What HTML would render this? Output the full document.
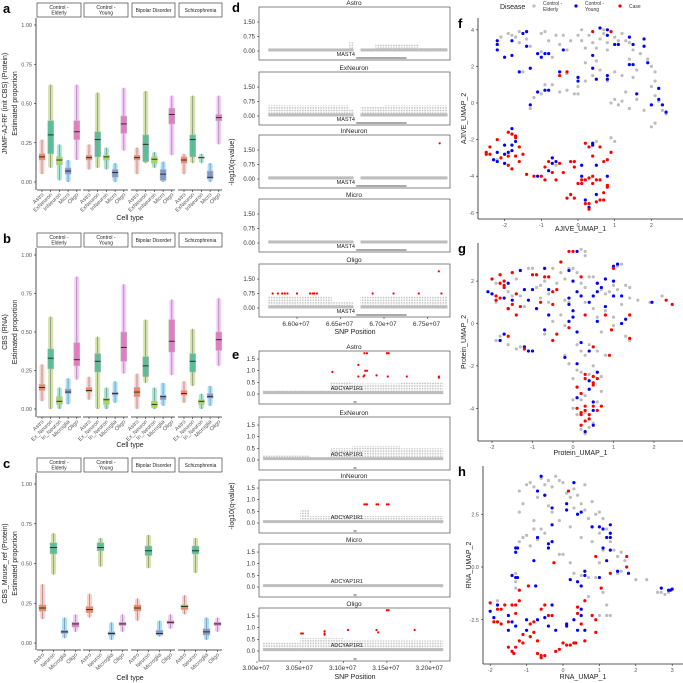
<!DOCTYPE html>
<html><head><meta charset="utf-8"><style>
body{margin:0;background:#fff}
svg{display:block;font-family:"Liberation Sans",Arial,sans-serif}
</style></head><body>
<svg id="fig" width="683" height="683" viewBox="0 0 683 683">
<defs><pattern id="dots" width="2.6" height="2.6" patternUnits="userSpaceOnUse"><circle cx="1.3" cy="1.3" r="0.9" fill="#bdbdbd"/></pattern></defs>
</svg>
<script>
// ---------- DATA ----------
const groups = ["Control -|Elderly","Control -|Young","Bipolar Disorder","Schizophrenia"];
const catsA = ["Astro","ExNeuron","InNeuron","Micro","Oligo"];
const catsB = ["Astro","Ex_Neuron","In_Neuron","Microglia","Oligo"];
const catsC = ["Astro","Neuron","Microglia","Oligo"];
// [median,q1,q3,min,max]
const statsA = [
 [[.16,.14,.18,.05,.27],[.30,.18,.39,.09,.62],[.14,.11,.16,.01,.24],[.07,.05,.09,0,.14],[.32,.27,.39,.14,.62]],
 [[.155,.14,.17,.08,.24],[.27,.16,.32,.09,.57],[.16,.14,.17,.08,.22],[.06,.03,.08,0,.12],[.37,.31,.42,.2,.6]],
 [[.155,.14,.17,.05,.22],[.24,.13,.30,.12,.58],[.145,.12,.16,.09,.19],[.05,.01,.08,0,.13],[.43,.37,.47,.17,.55]],
 [[.14,.12,.16,.05,.18],[.27,.16,.30,.12,.55],[.155,.15,.16,.12,.18],[.03,.02,.07,0,.12],[.41,.39,.43,.24,.55]]];
const statsB = [
 [[.14,.12,.16,.05,.29],[.33,.26,.39,0,.60],[.05,.03,.08,0,.14],[.11,.10,.13,.03,.20],[.32,.28,.43,.19,.86]],
 [[.12,.11,.14,.06,.21],[.31,.24,.36,0,.47],[.06,.03,.07,0,.14],[.10,.09,.11,.04,.18],[.40,.31,.50,.23,.81]],
 [[.11,.08,.14,0,.23],[.28,.21,.34,.17,.58],[.03,.01,.05,0,.14],[.08,.06,.09,.02,.17],[.44,.37,.58,.22,.71]],
 [[.10,.09,.12,.04,.18],[.31,.24,.36,.15,.52],[.05,.03,.06,0,.10],[.08,.07,.10,.02,.15],[.45,.38,.50,.28,.72]]];
const statsC = [
 [[.22,.20,.24,.15,.37],[.60,.56,.63,.43,.69],[.07,.06,.08,.03,.16],[.12,.10,.13,.07,.18]],
 [[.21,.19,.23,.16,.31],[.60,.58,.63,.48,.66],[.06,.05,.07,.02,.13],[.12,.11,.13,.07,.18]],
 [[.22,.20,.24,.14,.28],[.58,.55,.61,.47,.68],[.06,.05,.08,.04,.14],[.13,.12,.14,.09,.18]],
 [[.23,.21,.24,.18,.30],[.58,.56,.61,.44,.66],[.07,.05,.09,.02,.16],[.12,.11,.13,.07,.16]]];
const yTicksBox = [0,0.25,0.5,0.75,1.0];
const yTickLabelsBox = ["0.00","0.25","0.50","0.75","1.00"];

const cellsDE = ["Astro","ExNeuron","InNeuron","Micro","Oligo"];
// gray bands [start,end,maxHeight]
const segD = [
 [[6.567,6.66,0.12],[6.66,6.665,0.45],[6.673,6.69,0.1],[6.69,6.74,0.35],[6.74,6.773,0.15]],
 [[6.567,6.66,0.55],[6.66,6.665,0.35],[6.673,6.70,0.5],[6.70,6.773,0.55]],
 [[6.567,6.665,0.15],[6.673,6.773,0.15]],
 [[6.567,6.665,0.12],[6.673,6.773,0.12]],
 [[6.567,6.64,0.6],[6.64,6.665,0.3],[6.673,6.773,0.6]]];
const redD = [[],[],[[6.764,1.85]],[],
 [[6.572,.75],[6.578,.75],[6.583,.75],[6.586,.75],[6.589,.75],[6.60,.75],[6.615,.75],[6.618,.75],[6.62,.75],[6.623,.75],[6.687,.75],[6.711,.75],[6.74,.75],[6.766,.75],[6.763,1.9]]];
const xTicksD = [6.60,6.65,6.70,6.75];
const xTickLabelsD = ["6.60e+07","6.65e+07","6.70e+07","6.75e+07"];
const yTicksD = [0,0.75,1.5];
const yTickLabelsD = ["0.00","0.75","1.50"];

const segE = [
 [[3.007,3.085,0.15],[3.085,3.11,0.5],[3.11,3.165,0.45],[3.165,3.215,0.5]],
 [[3.007,3.06,0.2],[3.06,3.085,0.1],[3.085,3.11,0.5],[3.11,3.165,0.6],[3.165,3.215,0.5]],
 [[3.007,3.05,0.15],[3.05,3.06,0.55],[3.06,3.11,0.3],[3.11,3.215,0.3]],
 [[3.007,3.215,0.08]],
 [[3.007,3.05,0.35],[3.05,3.1,0.55],[3.1,3.215,0.45]]];
const redE = [
 [[3.087,.95],[3.117,1.25],[3.117,.75],[3.124,1.75],[3.127,1.75],[3.125,1.0],[3.127,1.0],[3.124,.8],[3.123,.75],[3.138,.8],[3.15,1.75],[3.152,1.75],[3.151,.75],[3.173,.75],[3.21,.75],[3.21,.7]],
 [],
 [[3.124,.8],[3.126,.8],[3.127,.8],[3.138,.8],[3.140,.8],[3.15,.8],[3.152,.8]],
 [],
 [[3.051,.75],[3.053,.75],[3.078,.85],[3.078,.7],[3.078,.75],[3.105,.9],[3.138,.9],[3.14,.8],[3.15,1.75],[3.152,1.75],[3.182,.9]]];
const xTicksE = [3.00,3.05,3.10,3.15,3.20];
const xTickLabelsE = ["3.00e+07","3.05e+07","3.10e+07","3.15e+07","3.20e+07"];
const yTicksE = [0,0.5,1.0,1.5];
const yTickLabelsE = ["0.0","0.5","1.0","1.5"];

const fGray=[[-1.9,3.8],[-1.8,3.7],[-1.7,3.6],[-1.6,3.3],[-1.4,3.5],[-1.3,3.1],[-1.0,3.8],[-0.9,3.9],[-0.8,3.4],[-0.6,3.7],[-0.4,3.7],[-0.5,3.2],[-0.3,2.9],[-0.2,3.4],[0,3.7],[0.1,3.4],[0.2,3.0],[0.3,3.7],[0.4,3.3],[0.5,3.0],[0.6,3.5],[0.7,3.8],[0.8,3.3],[1.0,3.6],[1.1,3.4],[1.2,3.8],[1.3,3.4],[1.4,3.3],[1.5,2.9],[1.7,2.7],[1.9,2.4],[2.0,2.0],[2.1,1.7],[2.1,1.2],[2.0,0.9],[2.1,0.4],[2.2,0.1],[2.3,-0.4],[2.4,-0.6],[2.0,-1.3],[2.1,-1.1],[1.8,-0.4],[1.6,0.2],[1.4,-0.3],[1.2,0.1],[1.0,0.2],[0.9,0.0],[1.1,-0.1],[1.3,0.6],[1.5,1.4],[1.6,1.8],[1.4,2.4],[1.2,1.5],[1.0,1.7],[0.8,1.2],[0.6,1.8],[0.4,1.5],[0.2,1.2],[0,0.9],[-0.1,0.5],[0,0.5],[-0.3,0.7],[-0.5,0.6],[-0.7,1.0],[-0.9,1.0],[-1.0,0.5],[-1.2,0.3],[-1.3,-0.3],[-1.0,2.8],[-0.7,2.5],[-1.5,1.7],[-2.1,3.6],[0.8,2.9],[0.5,2.3],[0.2,2.2],[-0.3,1.6],[0.1,4.0],[-1.6,3.9],[0.9,-1.9],[1.0,-2.1],[0.5,-2.1],[-0.6,-3.4],[-2.2,-3.1],[0.7,4.0]];
const fBlue=[[-2.2,3.4],[-2.2,3.2],[-2.2,2.9],[-2.0,2.5],[-1.8,3.4],[-1.8,2.6],[-1.6,1.7],[-1.5,3.8],[-1.4,3.9],[-1.4,3.1],[-1.3,1.9],[-1.1,2.7],[-1.0,2.5],[-0.9,2.7],[-0.8,2.7],[-0.4,2.9],[-0.5,1.7],[-0.9,0.7],[-0.8,0.7],[-1.1,0.6],[-1.3,-0.1],[0,1.4],[0.0,1.2],[0.4,1.9],[0.4,2.6],[0.5,1.3],[0.8,1.5],[0.8,1.3],[0.6,4.1],[0.8,3.7],[0.8,4.0],[1.0,3.2],[1.1,3.2],[1.4,3.6],[1.5,3.2],[1.8,3.5],[1.8,3.1],[1.4,2.1],[1.5,2.1],[1.9,2.2],[2.2,0.8],[1.6,0.5],[2.0,-0.1],[2.2,0.2],[2.3,-0.1],[2.4,-0.5],[-2.0,-2.3],[-2.2,-2.7],[-2.0,-2.8],[-1.9,-2.7],[-1.8,-2.6],[-1.8,-2.3],[-1.7,-2.1],[-1.8,-1.4],[-2.3,-3.1],[-2.2,-3.2],[-2.0,-3.3],[-1.1,-4.0],[-0.8,-3.7],[-0.7,-3.3],[-0.7,-3.0],[-0.6,-3.2],[0.1,-3.4],[0.4,-2.3],[0.4,-2.2],[0.5,-3.4],[0.8,-4.0],[0.1,-4.0],[0.2,-5.3],[0.5,-5.0],[0.3,-5.7]];
const fRed=[[0.4,3.9],[0.9,3.9],[-0.5,1.5],[-0.3,1.7],[-2.4,-2.4],[-2.5,-2.7],[-2.5,-2.8],[-2.4,-2.8],[-2.2,-2.0],[-2.1,-3.0],[-1.9,-1.6],[-1.9,-2.9],[-1.8,-1.7],[-1.7,-1.9],[-1.7,-1.8],[-1.6,-2.4],[-1.7,-2.9],[-1.6,-3.2],[-1.8,-3.6],[-1.9,-3.4],[-1.5,-2.8],[-1.4,-3.9],[-1.2,-4.0],[-1.0,-4.0],[-0.9,-4.2],[-0.9,-3.5],[-0.8,-3.2],[-0.7,-3.8],[-0.6,-4.2],[-0.5,-3.3],[-0.4,-3.8],[-0.2,-3.2],[-0.1,-3.2],[-0.1,-3.5],[0.2,-2.2],[0.3,-2.4],[0.4,-2.9],[0.6,-2.4],[0.7,-3.2],[0.8,-3.1],[0.9,-2.7],[0.8,-4.6],[0.8,-4.5],[0.6,-4.2],[0.3,-4.1],[0.2,-4.2],[0.4,-4.0],[0.4,-4.4],[0.5,-4.2],[0.1,-4.4],[0.1,-4.2],[0.0,-4.4],[-0.1,-5.2],[-0.2,-5.0],[-0.3,-5.2],[0.2,-5.5],[0.3,-5.5],[0.5,-5.4],[0.7,-5.3],[0.7,-4.9],[0.6,-5.3],[0.3,-5.8]];
const gGray=[[-1.9,1.0],[-1.6,1.5],[-1.3,1.3],[-1.1,2.6],[-1.0,2.6],[-0.9,1.7],[-0.8,1.8],[-0.7,2.0],[-0.6,1.4],[-0.5,2.6],[-0.4,1.9],[-0.3,2.4],[-0.2,2.1],[-0.1,2.6],[0,2.6],[0.1,2.4],[0.2,1.9],[0.3,1.7],[0.4,2.2],[0.5,2.2],[0.6,1.9],[0.7,1.6],[0.8,1.4],[0.9,1.5],[1.0,1.8],[1.1,1.6],[1.3,1.8],[1.4,1.7],[1.4,1.2],[1.6,1.1],[1.9,1.0],[2.2,1.3],[1.2,2.8],[1.1,2.7],[0.2,3.5],[0.3,3.4],[0.3,3.2],[0,3.4],[-0.1,1.0],[0.3,1.0],[0.5,0.7],[0.6,0.3],[0.8,0.6],[1.0,0.3],[1.2,0.9],[1.3,-0.6],[1.4,-0.8],[1.0,-0.1],[0.7,-0.4],[-0.2,-0.1],[-0.3,0.4],[-0.5,0.1],[-0.7,-0.5],[-0.8,1.2],[-1.2,0.8],[-1.3,-1.1],[-1.4,-1.2],[-1.6,-1.0],[-1.8,-0.8],[-1.9,-0.8],[-1.8,-0.6],[0.1,-1.0],[0.2,-1.3],[0.3,-1.5],[0.4,-1.0],[0.6,-1.3],[0.8,-1.5],[0.5,-2.0],[0.2,-2.3],[0.0,-2.6],[0.1,-2.2],[0.4,-2.4],[0.7,-2.5],[0.7,-3.2],[0.6,-3.7],[0.3,-3.4],[0.2,-3.6],[0.0,-3.6],[0.0,-4.0],[0.1,-4.3],[0.3,-4.2],[0.2,-5.0],[0.3,-5.2],[0.4,-4.9],[0.5,-4.7],[-0.1,-1.9],[-0.2,-1.5],[-0.6,1.0],[-1.5,1.3],[-1.9,1.9],[-1.4,2.1],[-0.2,1.1]];
const gBlue=[[-2.1,1.5],[-2.0,1.4],[-1.7,1.2],[-1.6,1.9],[-1.5,1.1],[-1.3,2.5],[-1.2,1.6],[-1.1,1.1],[-1.0,1.6],[-0.9,0.7],[-0.7,2.6],[-0.6,1.6],[-0.6,0.4],[-0.7,-0.3],[-0.1,2.5],[0,2.0],[0.1,1.5],[-0.1,1.2],[-0.1,0.9],[0,0.3],[0,0.6],[-0.1,0.1],[0.1,-0.4],[0.1,3.4],[0.2,1.3],[0.4,1.0],[0.5,1.3],[0.6,1.5],[0.6,0.1],[0.6,1.9],[0.7,1.7],[0.8,0.8],[0.8,2.1],[1.0,2.0],[1.0,1.3],[1.2,1.3],[1.1,2.8],[1.3,0.2],[1.2,0.0],[1.0,2.7],[1.95,1.0],[-1.7,-0.5],[-1.8,-0.8],[-1.2,-1.1],[-1.1,-1.3],[-1.0,-1.3],[-0.2,-1.6],[0.2,-0.9],[0.4,-1.3],[0.1,-1.9],[0.6,-2.3],[0.4,-2.7],[0.4,-3.1],[0.1,-3.5],[0.5,-3.7],[0.5,-4.1],[0.5,-4.8],[0.3,-5.1]];
const gRed=[[-2.0,2.1],[-1.8,2.3],[-1.9,1.3],[-1.9,1.1],[-1.8,1.2],[-1.8,1.9],[-1.7,1.7],[-1.7,1.8],[-1.7,2.0],[-1.6,0.7],[-1.5,2.4],[-1.5,0.9],[-1.4,0.4],[-1.3,0.8],[-1.4,1.4],[-1.2,-1.2],[-1.0,2.3],[-0.9,2.3],[-0.8,1.0],[-0.7,2.2],[-0.6,2.2],[-0.5,0.9],[-0.4,1.6],[-0.5,1.5],[-0.4,-0.5],[-0.5,-0.8],[-0.3,2.9],[-0.1,3.4],[0,3.4],[0.2,2.2],[0.3,0.4],[-0.1,-0.2],[0.8,0.4],[1.0,2.6],[0.95,-0.3],[1.4,0.4],[1.4,-0.7],[0.9,-1.5],[0.5,-1.1],[0.3,-2.4],[0.3,-2.6],[0.5,-2.5],[0.5,-2.8],[0.5,-2.9],[0.6,-2.6],[0.1,-3.0],[0.2,-3.3],[0.3,-3.9],[0.5,-3.9],[0.6,-4.1],[0.7,-3.9],[0.1,-4.0],[0.2,-4.2],[0.2,-4.3],[0.3,-4.1],[0.4,-4.3],[0.3,-4.6],[0.4,-4.5],[0.2,-4.8],[2.3,1.1],[2.45,0.9],[-1.6,-0.6],[-1.6,0.7]];
const hGray=[[-1.2,3.6],[-1.1,3.0],[-1.2,2.6],[-1.0,3.9],[-0.9,4.0],[-0.8,3.8],[-0.7,3.3],[-0.6,4.2],[-0.5,3.9],[-0.4,4.1],[-0.3,3.8],[-0.2,4.3],[-0.1,4.1],[0.0,4.0],[0.1,3.5],[0.2,3.3],[0.3,3.7],[0.4,3.4],[0.5,3.0],[0.6,2.7],[0.7,2.3],[0.8,3.1],[0.9,2.5],[1.0,2.6],[1.1,2.3],[1.2,1.8],[1.3,1.2],[1.4,0.8],[1.5,0.5],[1.6,0.7],[1.7,0.3],[1.5,-0.3],[1.6,-0.2],[1.1,0.8],[1.0,0.2],[0.9,-0.5],[0.7,-0.5],[0.5,-0.4],[0.3,-0.3],[0.2,0.2],[0.0,0.6],[-0.1,0.6],[-0.3,1.2],[-0.4,0.9],[-0.5,1.6],[-0.6,1.8],[-0.7,1.3],[-0.9,1.0],[-1.0,1.5],[-1.1,1.4],[-1.2,1.2],[-0.8,2.2],[-0.3,2.6],[-0.1,2.2],[0.2,1.9],[0.5,1.4],[0.8,1.2],[1.0,1.6],[-0.4,2.9],[-0.5,3.4],[0.6,3.9],[2.0,-0.6],[2.3,-0.6],[2.6,-1.2],[2.7,-1.2],[2.8,-1.3],[2.9,-1.2],[-1.3,-0.3],[-1.3,-0.7],[-1.3,-1.0],[-1.8,-1.6],[1.1,-1.2],[1.2,-1.8],[1.0,-2.3],[1.2,-2.3],[1.3,-2.3],[0.7,-1.4],[-0.8,1.8],[0.3,2.8]];
const hBlue=[[-0.6,4.3],[-0.7,3.6],[-0.5,3.4],[-0.3,2.8],[-0.3,2.0],[-0.7,1.4],[-0.4,1.1],[-0.4,0.9],[-0.3,1.2],[-1.3,0.7],[-1.3,0.9],[-1.25,0.9],[-0.8,0.3],[0.3,4.0],[0.1,3.0],[0.1,2.7],[0.4,2.5],[0.5,2.6],[0.8,1.9],[1.0,1.9],[1.1,1.8],[1.3,2.0],[1.3,1.6],[1.3,1.4],[1.2,1.4],[1.1,0.9],[1.3,0.8],[1.2,0.3],[1.5,-0.2],[1.8,-0.3],[1.0,-0.5],[0.6,-0.2],[0.6,-0.4],[0.2,-0.6],[0.4,-0.7],[0.5,-0.9],[-1.4,-0.4],[-1.3,-0.5],[-1.25,-0.5],[-0.75,-0.9],[-2.0,-2.1],[-1.8,-1.8],[-1.9,-2.4],[-1.5,-2.3],[-1.4,-2.6],[-1.3,-2.8],[-1.5,-3.0],[-1.0,-3.0],[-1.0,-2.5],[-0.7,-2.5],[-0.5,-2.4],[-0.4,-2.8],[-0.3,-1.8],[-0.2,-3.0],[0.1,-2.8],[0.1,-2.7],[0.3,-2.5],[0.4,-3.0],[0.5,-2.3],[0.5,-2.0],[0.6,-3.0],[2.7,-1.0],[2.9,-1.1],[2.95,-1.1],[3.0,-1.05]];
const hRed=[[0.15,3.6],[-0.25,0.2],[0.9,0.5],[1.75,0.5],[1.75,0.0],[1.3,-0.3],[1.05,-1.0],[-0.95,-0.9],[-1.2,-1.1],[0.6,-1.6],[0.4,-1.9],[-2.0,-1.7],[-1.9,-2.6],[-1.8,-2.0],[-1.7,-2.0],[-1.7,-2.7],[-1.6,-1.8],[-1.5,-2.6],[-1.4,-1.8],[-1.3,-1.8],[-1.2,-1.6],[-1.3,-2.2],[-1.2,-3.5],[-1.1,-3.2],[-0.9,-2.7],[-0.8,-2.6],[-0.9,-3.3],[-0.8,-3.1],[-0.7,-3.5],[-0.6,-2.0],[-0.5,-1.8],[-0.4,-2.3],[-0.7,-4.1],[-0.6,-4.3],[-0.5,-4.2],[-0.6,-4.2],[-1.1,-3.6],[-1.3,-3.8],[-1.4,-4.0],[-1.5,-3.8],[-1.35,-4.1],[0.0,-3.6],[0.1,-3.7],[0.2,-3.7],[0.3,-3.6],[0.6,-3.5],[0.5,-2.7],[0.4,-2.2],[0.8,-2.3],[0.9,-2.5],[0.9,-3.1],[-0.2,-4.0],[-0.1,-3.9],[-0.3,-2.3],[0.35,-3.6],[-1.8,-2.6]];
const fXTicks=[-2,-1,0,1,2], fYTicks=[-6,-4,-2,0,2,4];
const gXTicks=[-2,-1,0,1,2], gYTicks=[-4,-2,0,2];
const hXTicks=[-2,-1,0,1,2,3], hYTicks=[-2.5,0,2.5];
const hYTickLabels=["-2.5","0.0","2.5"];

// ---------- HELPERS ----------
const NS="http://www.w3.org/2000/svg";
const svg=document.getElementById('fig');
function mk(tag,attrs,parent,text){const e=document.createElementNS(NS,tag);for(const k in attrs)e.setAttribute(k,attrs[k]);if(text!==undefined)e.textContent=text;(parent||svg).appendChild(e);return e;}
function txt(x,y,s,size,anchor,parent,extra){const t=mk('text',Object.assign({x:x,y:y,'font-size':size,'text-anchor':anchor||'middle',fill:'#222'},extra||{}),parent,s);return t;}

const boxFill=["#F4845A","#58BD96","#A6D854","#8097C9","#E07BBF"];
const ptCol=["#F8766D","#7CAE00","#00BF7D","#00A9FF","#E76BF3"];
const boxFillC=["#F4845A","#58BD96","#8097C9","#E07BBF"];
const ptColC=["#F8766D","#7CAE00","#00A9FF","#E76BF3"];
const facetX=[[37,81],[84,128],[132,175],[179,222]];

function boxPanel(letter,stats,cats,y0px,y1px,stripTop,axisBottom,ytitle1,fills,pts){
  const g=mk('g',{}); 
  
  const y=v=>y0px-(v)*(y0px-y1px);
  txt(3,stripTop+10,letter,13,'start',g,{'font-weight':'bold',fill:'#000'});
  mk('line',{x1:36,x2:36,y1:stripTop+15,y2:axisBottom,stroke:'#222','stroke-width':0.8},g);
  yTicksBox.forEach((v,i)=>{mk('line',{x1:34,x2:36,y1:y(v),y2:y(v),stroke:'#222','stroke-width':0.6},g);
    const t=txt(32,y(v)+2,yTickLabelsBox[i],5.5,'end',g,{fill:'#555'});
    });
  const yt=txt(0,0,ytitle1,7,'middle',g,{transform:`translate(7,${(y0px+y1px)/2}) rotate(-90)`});
  
  const yt2=txt(0,0,'Estimated proportion',7,'middle',g,{transform:`translate(17,${(y0px+y1px)/2}) rotate(-90)`});
  
  const n=cats.length, step=n===5?8.7:11, off=n===5?5:5.5, bw=n===5?6:7;
  facetX.forEach((fx,gi)=>{
    const s=mk('rect',{x:fx[0],y:stripTop,width:fx[1]-fx[0],height:14,fill:'#fff',stroke:'#444','stroke-width':0.7},g);
    
    const lines=groups[gi].split('|');
    lines.forEach((l,li)=>txt((fx[0]+fx[1])/2,stripTop+(lines.length===1?9:6)+li*5.5,l,5,'middle',g));
    mk('line',{x1:fx[0]-(gi?1:0),x2:fx[1],y1:axisBottom,y2:axisBottom,stroke:'#222','stroke-width':0.8},g);
    cats.forEach((c,ci)=>{
      const cx=fx[0]+off+ci*step, st=stats[gi][ci];
      const cl=mk('rect',{x:cx-2.5,y:y(st[4]),width:5,height:y(st[3])-y(st[4]),fill:pts[ci],opacity:0.35,rx:2},g);
      
      mk('line',{x1:cx,x2:cx,y1:y(st[4]),y2:y(st[3]),stroke:'#777','stroke-width':0.6},g);
      const b=mk('rect',{x:cx-bw/2,y:y(st[2]),width:bw,height:y(st[1])-y(st[2]),fill:fills[ci],stroke:'#bbb','stroke-width':0.5,opacity:0.95},g);
      
      mk('line',{x1:cx-bw/2,x2:cx+bw/2,y1:y(st[0]),y2:y(st[0]),stroke:'#222','stroke-width':0.9},g);
      mk('line',{x1:cx,x2:cx,y1:axisBottom,y2:axisBottom+2,stroke:'#222','stroke-width':0.6},g);
      const t=txt(0,0,c,5.5,'end',g,{fill:'#555',transform:`translate(${cx+2},${axisBottom+5}) rotate(-45)`});
      
    });
  });
  const xt=txt(130,axisBottom+30,'Cell type',7,'middle',g);
  
}
boxPanel('a',statsA,catsA,182,25,3,190,'JNMF-AJ-RF (init CBS) (Protein)',boxFill,ptCol);
boxPanel('b',statsB,catsB,409,255,233,417,'CBS (RNA)',boxFill,ptCol);
boxPanel('c',statsC,catsC,643,484,458,650,'CBS_Mouse_ref (Protein)',boxFillC,ptColC);

// ---------- Manhattan ----------
function manhattan(letter,tops,segs,reds,xTicks,xLabels,x0val,x0px,pxPerUnit,yTicks,yLabels,zeroOff,pxPerY,gene,geneX0,geneX1,geneLabelX,geneLabelOff,titleY){
  const g=mk('g',{});
  const X=v=>x0px+(v-x0val)*pxPerUnit;
  txt(232,tops[0]-(letter==='d'?-5:-8),letter,13,'start',g,{'font-weight':'bold',fill:'#000'});
  tops.forEach((top,fi)=>{
    const fg=mk('g',{},g);
    txt(354,top-2,cellsDE[fi],6.5,'middle',fg);
    mk('rect',{x:259,y:top,width:191,height:53,fill:'#fff',stroke:'#666','stroke-width':0.8},fg);
    const Y=v=>top+zeroOff-v*pxPerY;
    yTicks.forEach((v,i)=>{mk('line',{x1:257,x2:259,y1:Y(v),y2:Y(v),stroke:'#333','stroke-width':0.6},fg);
      txt(255,Y(v)+2,yLabels[i],6,'end',fg,{fill:'#333'});});
    segs[fi].forEach(s=>{
      const band=mk('rect',{x:X(s[0]),y:Y(s[2]),width:X(s[1])-X(s[0]),height:Y(0)-Y(s[2]),fill:'url(#dots)',opacity:0.9},fg);
      
      mk('rect',{x:X(s[0]),y:Y(0.08)-1,width:X(s[1])-X(s[0]),height:3,fill:'#bdbdbd'},fg);
    });
    reds[fi].forEach(p=>{const c=mk('circle',{cx:X(p[0]),cy:Y(p[1]),r:1.1,fill:'#ff0000'},fg);
      });
    txt(geneLabelX,top+geneLabelOff,gene,5.5,'end',fg,{fill:'#222'});
    mk('line',{x1:X(geneX0),x2:X(geneX1),y1:top+51,y2:top+51,stroke:'#555','stroke-width':1},fg);
  });
  const last=tops[tops.length-1]+53;
  xTicks.forEach((v,i)=>{mk('line',{x1:X(v),x2:X(v),y1:last,y2:last+2,stroke:'#333','stroke-width':0.6},g);
    txt(X(v)-1,last+9,xLabels[i],6.5,'middle',g,{fill:'#333'});});
  txt(355,titleY,'SNP Position',7,'middle',g);
  txt(0,0,'-log10(q-value)',7,'middle',g,{transform:`translate(234,${(tops[0]+last)/2}) rotate(-90)`});
}
manhattan('d',[7,72,135,199,264],segD,redD,xTicksD,xTickLabelsD,6.60,297,870,yTicksD,yTickLabelsD,44,19.3,'MAST4',6.668,6.726,355,49,334);
manhattan('e',[351,417,480,544,608],segE,redE,xTicksE,xTickLabelsE,3.00,257,866,yTicksE,yTickLabelsE,43,23.3,'ADCYAP1R1',3.1115,3.115,363,39,679);

// ---------- UMAP ----------
function umap(letter,gray,blue,red,x0,xu,y0,yu,left,top,right,bottom,xTicks,yTicks,yLabels,xtitle,ytitle,titleY){
  const g=mk('g',{});
  const X=v=>x0+v*xu, Y=v=>y0-v*yu;
  txt(458,top+10,letter,13,'start',g,{'font-weight':'bold',fill:'#000'});
  mk('line',{x1:left,x2:left,y1:top,y2:bottom,stroke:'#222','stroke-width':0.8},g);
  mk('line',{x1:left,x2:right,y1:bottom,y2:bottom,stroke:'#222','stroke-width':0.8},g);
  xTicks.forEach(v=>{mk('line',{x1:X(v),x2:X(v),y1:bottom,y2:bottom+2,stroke:'#222','stroke-width':0.6},g);
    txt(X(v),bottom+8,String(v),5.5,'middle',g,{fill:'#555'});});
  yTicks.forEach((v,i)=>{mk('line',{x1:left-2,x2:left,y1:Y(v),y2:Y(v),stroke:'#222','stroke-width':0.6},g);
    txt(left-4,Y(v)+2,yLabels?yLabels[i]:String(v),5.5,'end',g,{fill:'#555'});});
  [[gray,'#bdbdbd','control-elderly'],[blue,'#0000ff','control-young'],[red,'#ff0000','case']].forEach(([arr,col,nm])=>{
    arr.forEach(p=>{const c=mk('circle',{cx:X(p[0]),cy:Y(p[1]),r:1.6,fill:col},g);
      });
  });
  txt((left+right)/2,titleY,xtitle,7,'middle',g);
  txt(0,0,ytitle,7,'middle',g,{transform:`translate(${left-12},${(top+bottom)/2}) rotate(-90)`});
}
umap('f',fGray,fBlue,fRed,578,36.7,103,18.3,478,18,683,219,fXTicks,fYTicks,null,'AJIVE_UMAP_1','AJIVE_UMAP_2',231);
umap('g',gGray,gBlue,gRed,573,40.5,323.5,21.2,478,243,683,441,gXTicks,gYTicks,null,'Protein_UMAP_1','Protein_UMAP_2',455);
umap('h',hGray,hBlue,hRed,563,36.4,567,21.1,483,466,683,664,hXTicks,hYTicks,hYTickLabels,'RNA_UMAP_1','RNA_UMAP_2',679);

// legend
const lg=mk('g',{});
txt(500,9,'Disease',7,'start',lg);
[[534,'#bdbdbd',['Control -','Elderly']],[576,'#0000ff',['Control -','Young']],[620,'#ff0000',['Case']]].forEach(([x,c,l])=>{
  const e=mk('circle',{cx:x,cy:6,r:1.6,fill:c},lg);
  
  l.forEach((s,i)=>txt(x+9,(l.length===1?8:5)+i*6,s,5,'start',lg,{fill:'#333'}));
});
</script>
</body></html>
